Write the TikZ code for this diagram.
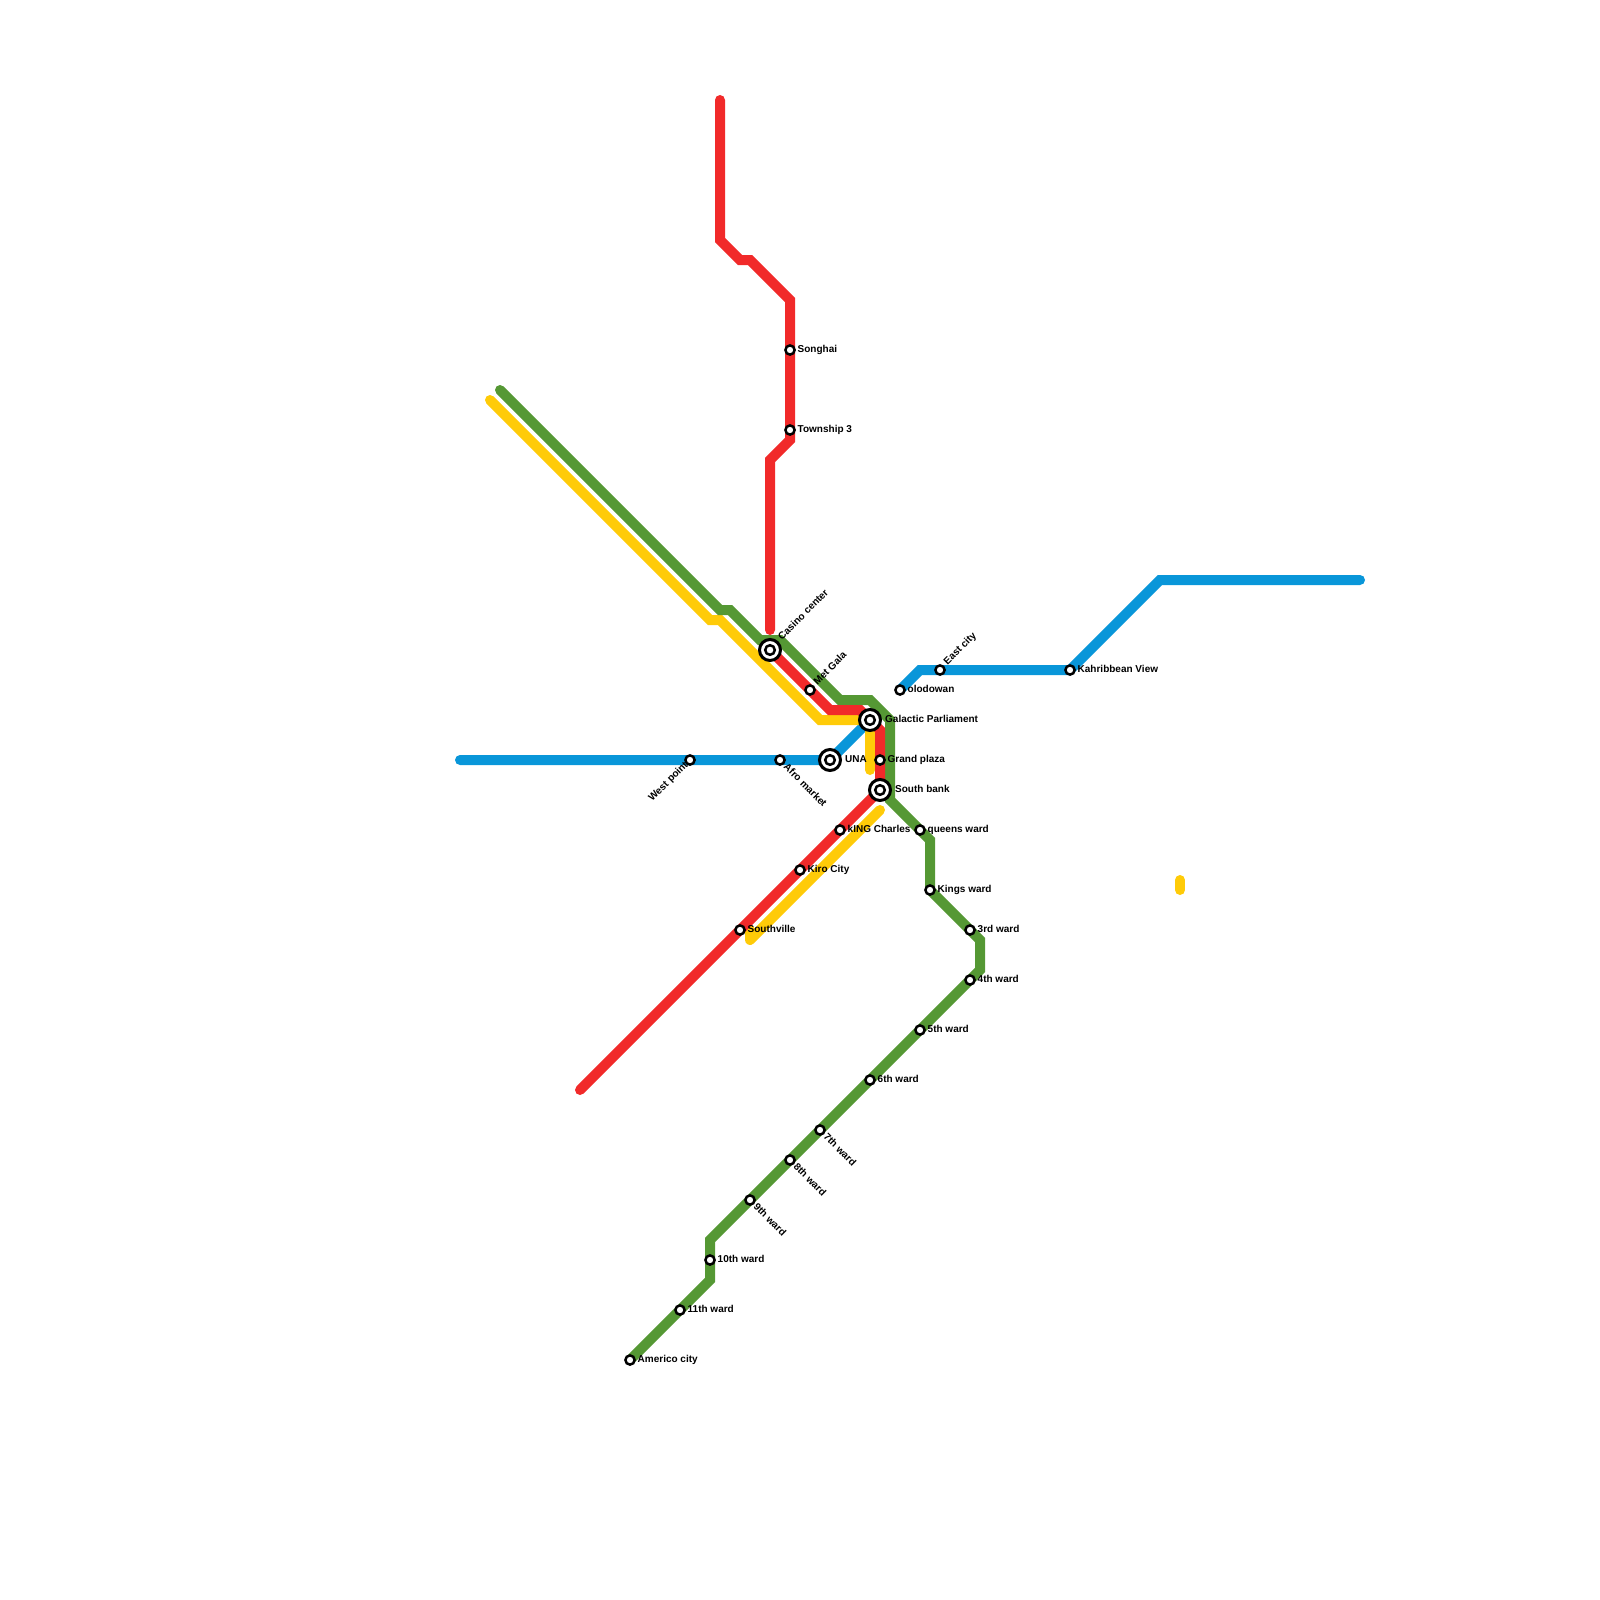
\documentclass[tikz,border=0pt]{standalone}
\usepackage{fontspec}
\setmainfont{Liberation Sans}
\tikzset{
    metroline/.style={line width=10pt, line cap=round, miter limit=10},
    redline/.style={metroline, draw={rgb,255:red,241;green,42;blue,42}},
    greenline/.style={metroline, draw={rgb,255:red,85;green,152;blue,52}},
    blueline/.style={metroline, draw={rgb,255:red,9;green,150;blue,217}},
    yellowline/.style={metroline, draw={rgb,255:red,255;green,203;blue,8}},
    stop/.style={circle, draw=black, fill=white, line width=2.5pt, minimum size=9.2pt, inner sep=0pt},
    bigstop/.style={stop, line width=3pt, minimum size=21pt},
    stoplabel/.style={inner sep=0pt, font=\bfseries\fontsize{10}{12}\selectfont, anchor=base west}
}
\begin{document}
\begin{tikzpicture}[x=1pt, y=-1pt]
\useasboundingbox (0,0) rectangle (1600,1600);
% bends
\foreach \nm/\x/\y in {
    ra/720/100, rb/720/240, rc/740/260, rd/750/260, re/790/300, rf/790/440, rg/770/460, rh/770/630,
    ri/830/710, rj/860/710, rk/880/730, rl/580/1090,
    ga/500/390, gb/720/610, gc/730/610, gd/760/640, ge/780/640, gf/840/700, gg/870/700, gh/890/720,
    gi/890/800, gj/930/840, gk/980/940, gl/980/970, gm/710/1240, gn/710/1280,
    ya/490/400, yb/710/620, yc/720/620, yd/820/720, ye/870/770, yf/880/810, yg/750/940, yh/750/930,
    yi/1180/880, yj/1180/890,
    ba/460/760, bb/920/670, bc/1160/580, bd/1360/580}
    \coordinate (\nm) at (\x,\y);
% stops
\foreach \nm/\x/\y in {
    songhai/790/350, township/790/430, metgala/810/690, afro/780/760, grand/880/760, king/840/830,
    kiro/800/870, southville/740/930, queens/920/830, kings/930/890, third/970/930, fourth/970/980,
    fifth/920/1030, sixth/870/1080, seventh/820/1130, eighth/790/1160, ninth/750/1200, tenth/710/1260,
    eleventh/680/1310, americo/630/1360, west/690/760, olodowan/900/690, east/940/670, kahribbean/1070/670}
    \coordinate (\nm) at (\x,\y);
\foreach \nm/\x/\y in {casino/770/650, parliament/870/720, una/830/760, southbank/880/790}
    \coordinate (\nm) at (\x,\y);
% lines
\draw[blueline] (ba) -- (una) -- (parliament);
\draw[blueline] (olodowan) -- (bb) -- (kahribbean) -- (bc) -- (bd);
\draw[yellowline] (ya) -- (yb) -- (yc) -- (yd) -- (parliament |- yd) -- (ye);
\draw[yellowline, line join=round] (yf) -- (yg) -- (yh);
\draw[yellowline] (yi) -- (yj);
\draw[greenline] (ga) -- (gb) -- (gc) -- (gd) -- (ge) -- (gf) -- (gg) -- (gh) -- (gi) -- (gj) -- (kings) -- (gk) -- (gl) -- (gm) -- (gn) -- (americo);
\draw[redline] (ra) -- (rb) -- (rc) -- (rd) -- (re) -- (rf) -- (rg) -- (rh);
\draw[redline] (casino) -- (ri) -- (rj) -- (rk) -- (southbank) -- (rl);
% small stops
\foreach \nm in {songhai, township, metgala, afro, grand, king, kiro, southville, queens, kings, third,
    fourth, fifth, sixth, seventh, eighth, ninth, tenth, eleventh, americo, west, olodowan, east, kahribbean}
    \node[stop] (\nm-s) at (\nm) {};
% big stops
\foreach \nm in {casino, parliament, una, southbank} {
    \node[bigstop] (\nm-o) at (\nm) {};
    \node[stop, minimum size=9.6pt] (\nm-s) at (\nm) {};
}
% labels to the right
\foreach \nm/\txt in {songhai/Songhai, township/Township 3, grand/Grand plaza, king/kING Charles, kiro/Kiro City,
    southville/Southville, queens/queens ward, kings/Kings ward, third/3rd ward, fourth/4th ward, fifth/5th ward,
    sixth/6th ward, tenth/10th ward, eleventh/11th ward, americo/Americo city, olodowan/olodowan, kahribbean/Kahribbean View}
    \node[stoplabel] (\nm-l) at ([xshift=7.5pt,yshift=-2.7pt]\nm) {\txt};
\foreach \nm/\txt in {parliament/Galactic Parliament, una/UNA, southbank/South bank}
    \node[stoplabel] (\nm-l) at ([xshift=15pt,yshift=-2.7pt]\nm) {\txt};
% slanted labels
\foreach \nm/\txt in {metgala/Met Gala, east/East city}
    \node[stoplabel, rotate=45] (\nm-l) at ([xshift=7.5pt,yshift=4.5pt]\nm) {\txt};
\node[stoplabel, rotate=45] (casino-l) at ([xshift=12pt,yshift=9.5pt]casino) {Casino center};
\node[stoplabel, rotate=45, anchor=base east] (west-l) at ([xshift=-1.5pt,yshift=-5.5pt]west) {West point};
\foreach \nm/\txt in {afro/Afro market, seventh/7th ward, eighth/8th ward, ninth/9th ward}
    \node[stoplabel, rotate=-45] (\nm-l) at ([xshift=3pt,yshift=-7.5pt]\nm) {\txt};
\end{tikzpicture}
\end{document}
